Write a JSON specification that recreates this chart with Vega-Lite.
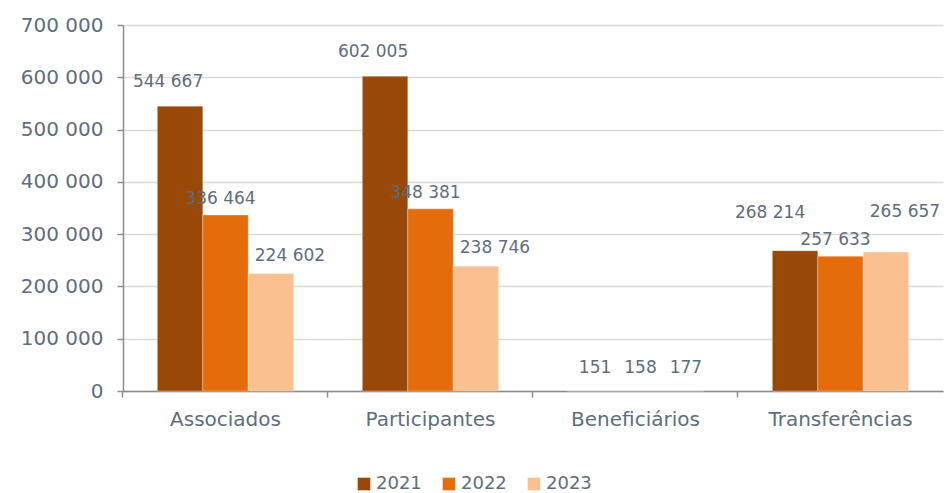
{
  "$schema": "https://vega.github.io/schema/vega-lite/v6.json",
  "width": 820,
  "height": 366,
  "autosize": {"type": "none"},
  "padding": {"left": 123, "top": 25, "right": 3, "bottom": 102},
  "config": {
    "locale": {"number": {"decimal": ",", "thousands": " ", "grouping": [3], "currency": ["", " €"]}},
    "view": {"stroke": null},
    "font": "DejaVu Sans"
  },
  "data": {
    "values": [
      {"categoria": "Associados", "ano": "2021", "valor": 544667},
      {"categoria": "Associados", "ano": "2022", "valor": 336464},
      {"categoria": "Associados", "ano": "2023", "valor": 224602},
      {"categoria": "Participantes", "ano": "2021", "valor": 602005},
      {"categoria": "Participantes", "ano": "2022", "valor": 348381},
      {"categoria": "Participantes", "ano": "2023", "valor": 238746},
      {"categoria": "Beneficiários", "ano": "2021", "valor": 151},
      {"categoria": "Beneficiários", "ano": "2022", "valor": 158},
      {"categoria": "Beneficiários", "ano": "2023", "valor": 177},
      {"categoria": "Transferências", "ano": "2021", "valor": 268214},
      {"categoria": "Transferências", "ano": "2022", "valor": 257633},
      {"categoria": "Transferências", "ano": "2023", "valor": 265657}
    ]
  },
  "encoding": {
    "x": {
      "field": "categoria",
      "type": "nominal",
      "sort": ["Associados", "Participantes", "Beneficiários", "Transferências"],
      "scale": {"paddingInner": 0.335, "paddingOuter": 0.1675},
      "axis": {
        "title": null,
        "labelAngle": 0,
        "labelFontSize": 20,
        "labelColor": "#5D6D7E",
        "labelPadding": 12,
        "domainColor": "#8C8C8C",
        "domainWidth": 1.5,
        "tickColor": "#8C8C8C",
        "tickWidth": 1.5,
        "tickSize": 6,
        "bandPosition": -0.252,
        "grid": false
      }
    },
    "xOffset": {
      "field": "ano",
      "type": "nominal",
      "scale": {"paddingInner": 0, "paddingOuter": 0}
    },
    "y": {
      "field": "valor",
      "type": "quantitative",
      "scale": {"domain": [0, 700000], "nice": false},
      "axis": {
        "title": null,
        "values": [0, 100000, 200000, 300000, 400000, 500000, 600000, 700000],
        "format": ",d",
        "labelFontSize": 20,
        "labelColor": "#5D6D7E",
        "labelPadding": 14,
        "domainColor": "#8C8C8C",
        "domainWidth": 1.5,
        "tickColor": "#8C8C8C",
        "tickWidth": 1.5,
        "tickSize": 6,
        "gridColor": "#D9D9D9",
        "gridWidth": 1.5
      }
    }
  },
  "layer": [
    {
      "mark": {"type": "bar", "stroke": "#FFFFFF", "strokeWidth": 0.5, "strokeOpacity": 0.6},
      "encoding": {
        "color": {
          "field": "ano",
          "type": "nominal",
          "scale": {"domain": ["2021", "2022", "2023"], "range": ["#984807", "#E46C0A", "#FAC090"]},
          "legend": {
            "title": null,
            "orient": "none",
            "direction": "horizontal",
            "legendX": 232,
            "legendY": 450,
            "symbolType": "square",
            "symbolSize": 160,
            "symbolStrokeWidth": 0,
            "labelFontSize": 18,
            "labelColor": "#5D6D7E",
            "labelOffset": 3,
            "columnPadding": 18
          }
        }
      }
    },
    {
      "transform": [{"filter": "datum.ano == '2021'"}],
      "mark": {"type": "text", "dy": {"expr": "datum.valor < 1000 ? -23 : (datum.categoria == 'Transferências' ? -38 : -24)"}, "dx": {"expr": "datum.valor < 1000 ? 5 : (datum.categoria == 'Transferências' ? -25 : -12)"}, "fontSize": 17, "color": "#5D6D7E"},
      "encoding": {
        "text": {"field": "valor", "type": "quantitative", "format": ",d"}
      }
    },
    {
      "transform": [{"filter": "datum.ano == '2022'"}],
      "mark": {"type": "text", "dy": {"expr": "datum.valor < 1000 ? -23 : -16"}, "dx": {"expr": "datum.valor < 1000 ? 5 : -5"}, "fontSize": 17, "color": "#5D6D7E"},
      "encoding": {
        "text": {"field": "valor", "type": "quantitative", "format": ",d"}
      }
    },
    {
      "transform": [{"filter": "datum.ano == '2023'"}],
      "mark": {"type": "text", "dy": {"expr": "datum.valor < 1000 ? -23 : (datum.categoria == 'Transferências' ? -40 : -18)"}, "dx": {"expr": "datum.valor < 1000 ? 5 : 19"}, "fontSize": 17, "color": "#5D6D7E"},
      "encoding": {
        "text": {"field": "valor", "type": "quantitative", "format": ",d"}
      }
    }
  ]
}
